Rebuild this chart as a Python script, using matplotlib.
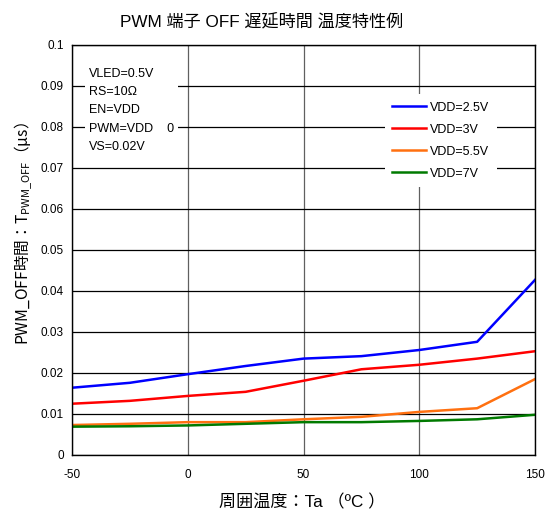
import numpy as np
import matplotlib.pyplot as plt

plt.rcParams['font.family'] = ['Liberation Sans', 'Noto Sans CJK JP', 'DejaVu Sans']
plt.rcParams['mathtext.fontset'] = 'custom'
plt.rcParams['mathtext.rm'] = 'Noto Sans CJK JP'
plt.rcParams['axes.unicode_minus'] = False

# temperature (degC) and delay (us)
temp = [-50, -25, 0, 25, 50, 75, 100, 125, 150]
vdd_2_5 = [0.0164, 0.0176, 0.0197, 0.0217, 0.0235, 0.0241, 0.0256, 0.0276, 0.0427]
vdd_3 = [0.0125, 0.0132, 0.0144, 0.0154, 0.0181, 0.0209, 0.0220, 0.0235, 0.0253]
vdd_5_5 = [0.0073, 0.0076, 0.0080, 0.0080, 0.0087, 0.0093, 0.0105, 0.0114, 0.0185]
vdd_7 = [0.0069, 0.0070, 0.0072, 0.0076, 0.0080, 0.0080, 0.0083, 0.0087, 0.0098]

labels = ['VDD=2.5V', 'VDD=3V', 'VDD=5.5V', 'VDD=7V']
colors = ['#0000ff', '#ff0000', '#ff7010', '#007a00']
conditions = 'VLED=0.5V\nRS=10Ω\nEN=VDD\nPWM=VDD    0\nVS=0.02V'

fig = plt.figure(figsize=(5.55, 5.17), dpi=100)
ax = fig.add_axes([0.1297, 0.120, 0.8343, 0.793])

for ys, lab, c in zip([vdd_2_5, vdd_3, vdd_5_5, vdd_7], labels, colors):
    ax.plot(temp, ys, color=c, lw=1.8, label=lab)

ax.set_xlim(-50, 150)
ax.set_ylim(0, 0.1)
ax.set_xticks([-50, 0, 50, 100, 150])
ax.set_yticks(np.arange(0, 0.101, 0.01))
ax.set_yticklabels(['0', '0.01', '0.02', '0.03', '0.04', '0.05', '0.06',
                    '0.07', '0.08', '0.09', '0.1'])
ax.tick_params(length=0, labelsize=8.5, pad=6)
ax.tick_params(axis='x', pad=10)

ax.grid(axis='y', color='black', lw=0.9)
ax.grid(axis='x', color='#606060', lw=0.9)
ax.set_axisbelow(True)
for s in ax.spines.values():
    s.set_linewidth(1.0)
    s.set_color('black')

fig.text(0.472, 0.959, 'PWM 端子 OFF 遅延時間 温度特性例', fontsize=12.3,
         ha='center', va='center')
ax.set_xlabel('周囲温度：Ta （ºC ）', fontsize=12.3)
ax.xaxis.set_label_coords(0.497, -0.095)
ax.set_ylabel('PWM_OFF時間：T$_{\\mathrm{PWM\\_OFF}}$（μs）', fontsize=11.3,
              family=['Noto Sans CJK JP'])
ax.yaxis.set_label_coords(-0.079, 0.539)

ax.text(0.037, 0.945, conditions, transform=ax.transAxes, fontsize=9,
        va='top', ha='left', linespacing=1.72,
        bbox=dict(facecolor='white', edgecolor='none', pad=3))

leg = ax.legend(loc='upper left', bbox_to_anchor=(0.662, 0.895), fontsize=9,
                frameon=True, facecolor='white', edgecolor='none', framealpha=1,
                fancybox=False, handlelength=2.7, handletextpad=0.3,
                labelspacing=0.8, borderpad=0.6)

fig.savefig('out.png', dpi=100)
